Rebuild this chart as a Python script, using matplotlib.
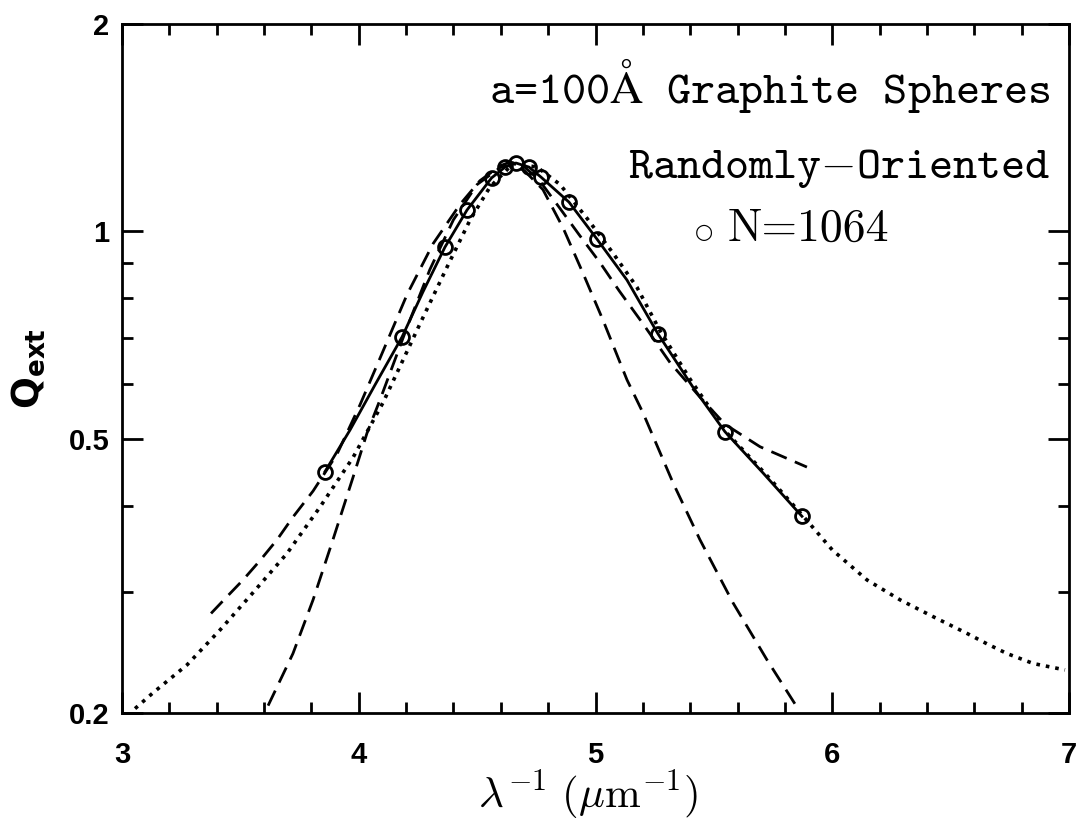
import numpy as np
import matplotlib.pyplot as plt
from matplotlib.ticker import FixedLocator, NullFormatter

# Q_ext for a=100A graphite spheres, randomly oriented
# circles: N=1064 dipole calculation
pts_x = [3.857, 4.183, 4.364, 4.457, 4.561, 4.618, 4.664, 4.719, 4.770,
         4.888, 5.006, 5.264, 5.547, 5.872]
pts_q = [0.448, 0.703, 0.949, 1.074, 1.196, 1.240, 1.257, 1.240, 1.199,
         1.103, 0.975, 0.710, 0.512, 0.386]

# solid curve through the circles
solid_x = [3.857, 3.963, 4.070, 4.183, 4.271, 4.364, 4.457, 4.561, 4.618,
           4.664, 4.719, 4.770, 4.888, 5.006, 5.133, 5.264, 5.412, 5.547,
           5.708, 5.872]
solid_q = [0.448, 0.515, 0.600, 0.703, 0.817, 0.949, 1.074, 1.196, 1.240,
           1.257, 1.240, 1.199, 1.103, 0.975, 0.850, 0.710, 0.594, 0.512,
           0.446, 0.386]

# dotted curve
dot_x = [3.055, 3.131, 3.275, 3.414, 3.553, 3.697, 3.836, 3.976, 4.102,
         4.259, 4.373, 4.470, 4.554, 4.652, 4.753, 4.850, 4.964, 5.074,
         5.175, 5.272, 5.400, 5.555, 5.720, 5.872, 6.000, 6.147, 6.286,
         6.426, 6.569, 6.654, 6.738, 6.849, 6.983]
dot_q = [0.203, 0.214, 0.235, 0.264, 0.299, 0.341, 0.398, 0.470, 0.564,
         0.735, 0.888, 1.039, 1.160, 1.255, 1.240, 1.170, 1.045, 0.930,
         0.830, 0.718, 0.610, 0.510, 0.444, 0.388, 0.345, 0.312, 0.292,
         0.276, 0.261, 0.252, 0.244, 0.236, 0.231]

# broad dashed curve
dashA_x = [3.376, 3.443, 3.511, 3.583, 3.655, 3.722, 3.807, 3.908, 4.005,
           4.090, 4.204, 4.314, 4.428, 4.512, 4.597, 4.640, 4.700, 4.760,
           4.850, 4.930, 5.020, 5.100, 5.200, 5.315, 5.441, 5.547, 5.695,
           5.893]
dashA_q = [0.279, 0.295, 0.312, 0.333, 0.357, 0.385, 0.420, 0.475, 0.560,
           0.655, 0.810, 0.960, 1.095, 1.185, 1.245, 1.262, 1.240, 1.190,
           1.080, 0.990, 0.900, 0.820, 0.735, 0.645, 0.575, 0.525, 0.487,
           0.455]

# narrow dashed curve
dashB_x = [3.617, 3.722, 3.807, 3.891, 3.976, 4.035, 4.090, 4.200, 4.300,
           4.400, 4.500, 4.600, 4.650, 4.700, 4.778, 4.863, 4.947, 5.032,
           5.133, 5.201, 5.327, 5.441, 5.581, 5.724, 5.855]
dashB_q = [0.205, 0.244, 0.292, 0.357, 0.440, 0.510, 0.570, 0.720, 0.880,
           1.040, 1.170, 1.240, 1.250, 1.225, 1.150, 1.012, 0.870, 0.743,
           0.609, 0.545, 0.432, 0.357, 0.289, 0.239, 0.203]

x_major = [3, 4, 5, 6, 7]
y_major = [0.2, 0.5, 1, 2]
y_major_labels = ['0.2', '0.5', '1', '2']
y_minor = [0.3, 0.4, 0.6, 0.7, 0.8, 0.9]

fig = plt.figure(figsize=(10.76, 8.21), dpi=100)
ax = fig.add_axes([0.1134, 0.1315, 0.8801, 0.8392])

ax.plot(dot_x, dot_q, color='k', lw=2.6, ls=':')
ax.plot(dashA_x, dashA_q, color='k', lw=2.0, ls=(0, (6, 3.2)))
ax.plot(dashB_x, dashB_q, color='k', lw=2.0, ls=(0, (6, 3.2)))
ax.plot(solid_x, solid_q, color='k', lw=2.0)
ax.plot(pts_x, pts_q, 'o', ms=10, mfc='none', mec='k', mew=2.0)

ax.set_yscale('log')
ax.set_xlim(3, 7)
ax.set_ylim(0.2, 2)

ax.xaxis.set_major_locator(FixedLocator(x_major))
ax.xaxis.set_minor_locator(FixedLocator(np.arange(3, 7.01, 0.2)))
ax.set_xticklabels([str(v) for v in x_major])
ax.yaxis.set_major_locator(FixedLocator(y_major))
ax.yaxis.set_minor_locator(FixedLocator(y_minor))
ax.set_yticklabels(y_major_labels)
ax.yaxis.set_minor_formatter(NullFormatter())

for s in ax.spines.values():
    s.set_linewidth(2.0)
ax.tick_params(which='both', direction='in', top=True, right=True, width=2.0)
ax.tick_params(which='major', length=15)
ax.tick_params(which='minor', length=8)
ax.tick_params(axis='x', which='major', pad=20)
ax.tick_params(axis='y', which='major', pad=9)
for lab in ax.get_xticklabels() + ax.get_yticklabels():
    lab.set_family('Liberation Sans')
    lab.set_fontweight('bold')
    lab.set_fontsize(21)

ax.set_ylabel(r'$\mathbf{Q}_{\mathbf{ext}}$', fontsize=27)
ax.yaxis.set_label_coords(-0.079, 0.5)
ax.set_xlabel(r'$\lambda^{-1}\ (\mu\mathrm{m}^{-1})$', fontsize=31,
              math_fontfamily='cm')
ax.xaxis.set_label_coords(0.492, -0.080)

tt = ['cmtt10', 'DejaVu Serif']
ax.text(0.98, 0.885, r'a=100$\mathrm{\AA}$ Graphite Spheres',
        transform=ax.transAxes, ha='right', va='baseline', fontsize=33,
        family=tt, math_fontfamily='cm')
ax.text(0.98, 0.777, r'Randomly$-$Oriented', transform=ax.transAxes,
        ha='right', va='baseline', fontsize=33, family=tt, math_fontfamily='cm')
ax.text(0.615, 0.69, '\u25cb', transform=ax.transAxes,
        ha='center', va='baseline', fontsize=15, family='DejaVu Sans')
ax.text(0.64, 0.685, 'N=1064', transform=ax.transAxes,
        ha='left', va='baseline', fontsize=33, family=['cmr10', 'DejaVu Serif'])

fig.savefig('out.png', dpi=100)
